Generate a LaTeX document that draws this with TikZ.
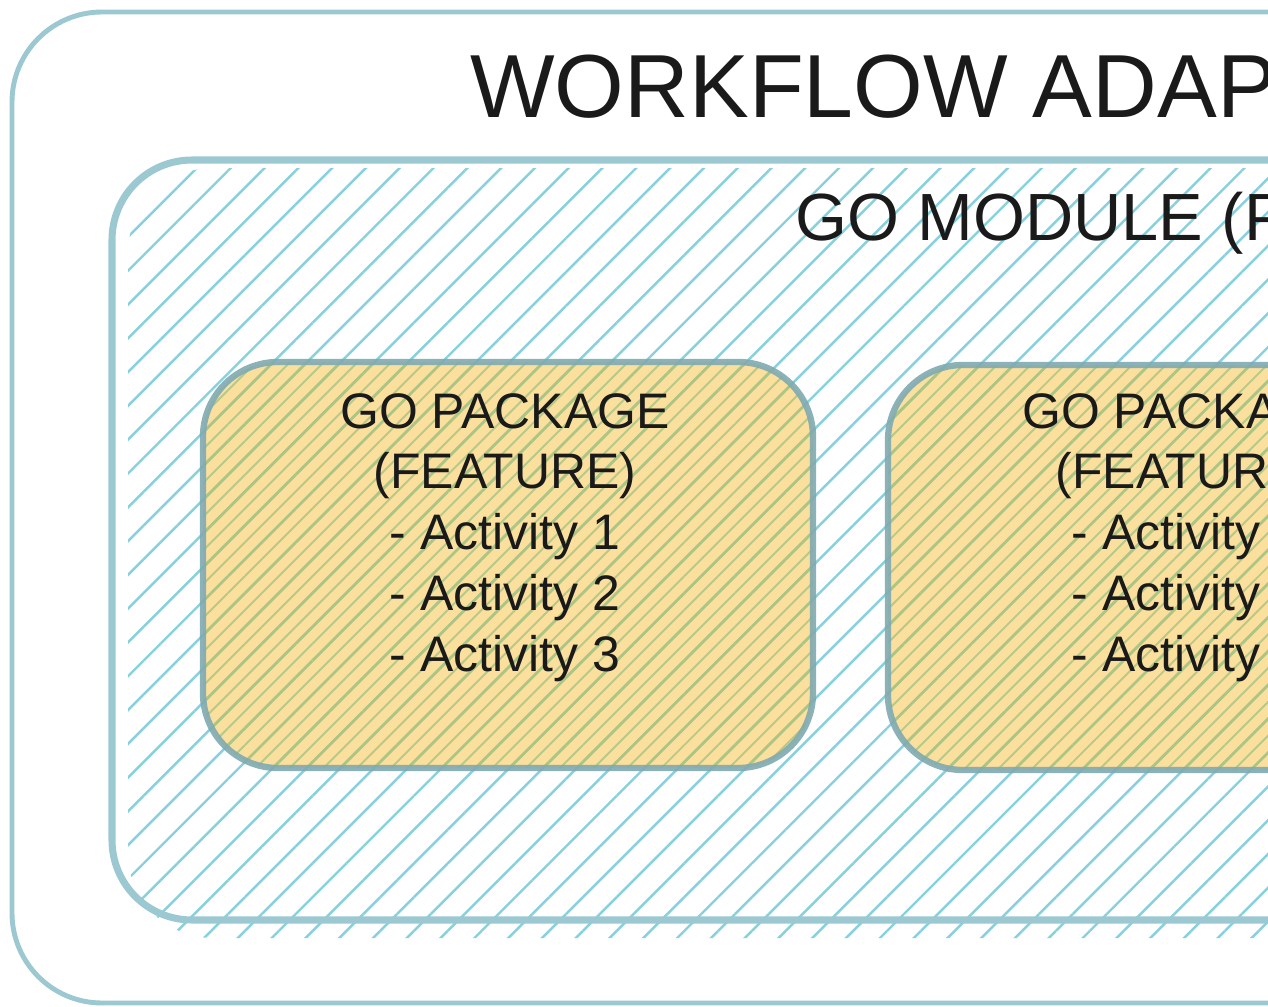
\documentclass[tikz,border=0pt]{standalone}
\usepackage{fontspec}
\setmainfont{Liberation Sans}
\usepackage{tikz}
\usetikzlibrary{patterns.meta}

\definecolor{frameteal}{HTML}{9CC8D1}
\definecolor{hatchcyan}{HTML}{86D1DD}
\definecolor{pkgfill}{HTML}{FBDF9D}
\definecolor{pkgline}{HTML}{7FAAB2}
\definecolor{pkghatch}{HTML}{ABC585}
\definecolor{inktext}{HTML}{1A1A1A}

\tikzset{
  frame/.style={draw=frameteal, line width=2.8pt},
  modulehatch/.style={pattern={Lines[angle=45,distance=13.6pt,line width=1.4pt]}, pattern color=hatchcyan},
  pkghatchA/.style={pattern={Lines[angle=45,distance=13.6pt,line width=1.6pt]}, pattern color=pkghatch},
  pkghatchB/.style={pattern={Lines[angle=45,distance=13.6pt,xshift=9.6pt,line width=1.1pt]}, pattern color=pkghatch!85!pkgfill},
  pkgbox/.style={draw=pkgline, line width=3.6pt, draw opacity=.9, rounded corners=1.5cm},
  bigtext/.style={inner sep=0pt, text=inktext, font=\fontsize{51pt}{60pt}\selectfont},
  midtext/.style={inner sep=0pt, text=inktext, font=\fontsize{38pt}{46pt}\selectfont},
  pkgtext/.style={inner sep=0pt, text=inktext, align=center, font=\fontsize{28.4pt}{34.6pt}\selectfont}
}
\newcommand{\pkgcontent}{GO PACKAGE\\(FEATURE)\\- Activity 1\\- Activity 2\\- Activity 3}

\begin{document}
\begin{tikzpicture}[x=0.02cm, y=-0.02cm]
    \clip (0,0) rectangle (1268,1007);
    \fill[white] (0,0) rectangle (1268,1007);
    % outer frame
    \draw[frame, rounded corners=1.8cm] (1500,12) -- (12,12) -- (12,1003) -- (1500,1003);
    \node[bigtext, anchor=base west] (adaptertitle) at (470,118) {WORKFLOW ADAP};
    % module
    \path[modulehatch, rounded corners=1.7cm] (128,168) rectangle (1500,938);
    \draw[frame, line width=4pt, rounded corners=1.6cm] (1500,160) -- (112,160) -- (112,920) -- (1500,920);
    \node[midtext, anchor=base west] (moduletitle) at (795,240) {GO MODULE (P};
    % packages
    \fill[pkgfill, rounded corners=1.5cm] (203,362) rectangle (813,768);
    \path[pkghatchA, rounded corners=1.5cm] (203,362) rectangle (813,768);
    \path[pkghatchB, rounded corners=1.5cm] (203,362) rectangle (813,768);
    \draw[pkgbox] (203,362) rectangle (813,768);
    \node[pkgtext, anchor=north] (pkgA) at (505,393) {\pkgcontent};
    \fill[pkgfill, rounded corners=1.5cm] (888,365) rectangle (1500,770);
    \path[pkghatchA, rounded corners=1.5cm] (888,365) rectangle (1500,770);
    \path[pkghatchB, rounded corners=1.5cm] (888,365) rectangle (1500,770);
    \draw[pkgbox] (888,365) rectangle (1500,770);
    \node[pkgtext, anchor=north] (pkgB) at (1187,393) {\pkgcontent};
\end{tikzpicture}
\end{document}
